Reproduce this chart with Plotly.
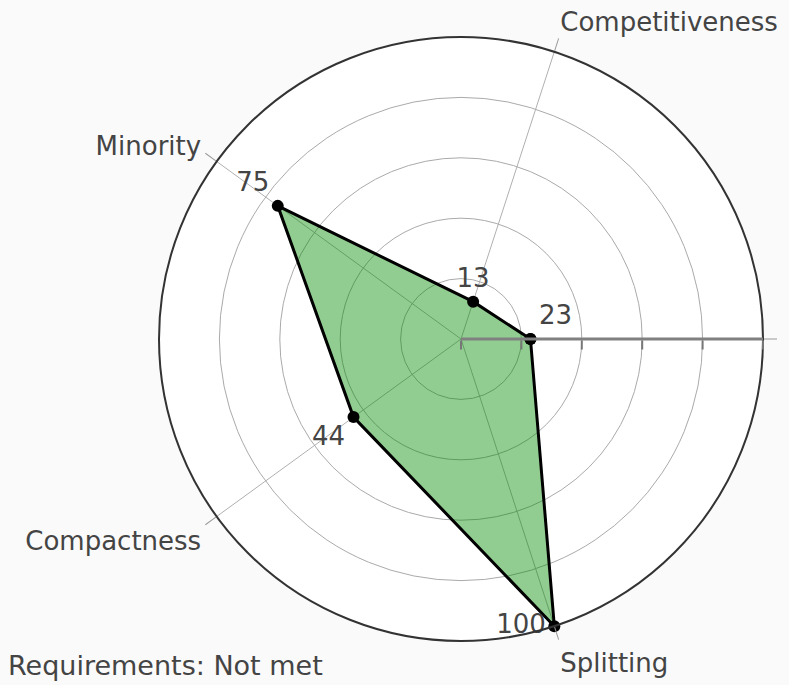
import plotly.graph_objects as go

# Score profile for one district plan
categories = [" ", "Competitiveness", "Minority", "Compactness", "Splitting"]
scores = [23, 13, 75, 44, 100]
label_positions = ["top right", "top center", "top left", "bottom left", "middle left"]
radial_ticks = [0, 20, 40, 60, 80, 100]
status_text = "Requirements: Not met"

font_family = "DejaVu Sans, Verdana, sans-serif"
text_color = "#444"

# close the polygon by repeating the first vertex
theta = categories + categories[:1]
r = scores + scores[:1]
text = [str(v) for v in scores] + [""]
positions = label_positions + ["middle center"]

fig = go.Figure()
fig.add_trace(
    go.Scatterpolar(
        r=r,
        theta=theta,
        mode="lines+markers+text",
        fill="toself",
        fillcolor="rgba(0,140,0,0.43)",
        line=dict(color="black", width=3),
        marker=dict(color="black", size=12),
        text=text,
        textposition=positions,
        textfont=dict(family=font_family, size=26, color=text_color),
        hoverinfo="skip",
        showlegend=False,
    )
)

fig.update_layout(
    width=789,
    height=685,
    margin=dict(l=159, r=26, t=37, b=44),
    paper_bgcolor="#fafafa",
    font=dict(family=font_family, size=26, color=text_color),
    polar=dict(
        bgcolor="white",
        radialaxis=dict(
            range=[0, 100],
            tickvals=radial_ticks,
            showticklabels=False,
            ticks="outside",
            ticklen=9,
            tickwidth=2,
            tickcolor="#777",
            showline=True,
            linecolor="#808080",
            linewidth=3,
            gridcolor="#aaaaaa",
            gridwidth=1,
        ),
        angularaxis=dict(
            type="category",
            categoryorder="array",
            categoryarray=categories,
            direction="counterclockwise",
            rotation=0,
            ticks="outside",
            ticklen=13,
            tickcolor="#999",
            showline=True,
            linecolor="#333",
            linewidth=2,
            gridcolor="#b0b0b0",
            gridwidth=1,
            tickfont=dict(family=font_family, size=26, color=text_color),
        ),
    ),
    title=dict(
        text=status_text,
        xref="container",
        yref="container",
        x=8 / 789,
        y=0.028,
        xanchor="left",
        yanchor="middle",
        font=dict(family=font_family, size=27, color=text_color),
    ),
)

fig.write_html("out.html")
